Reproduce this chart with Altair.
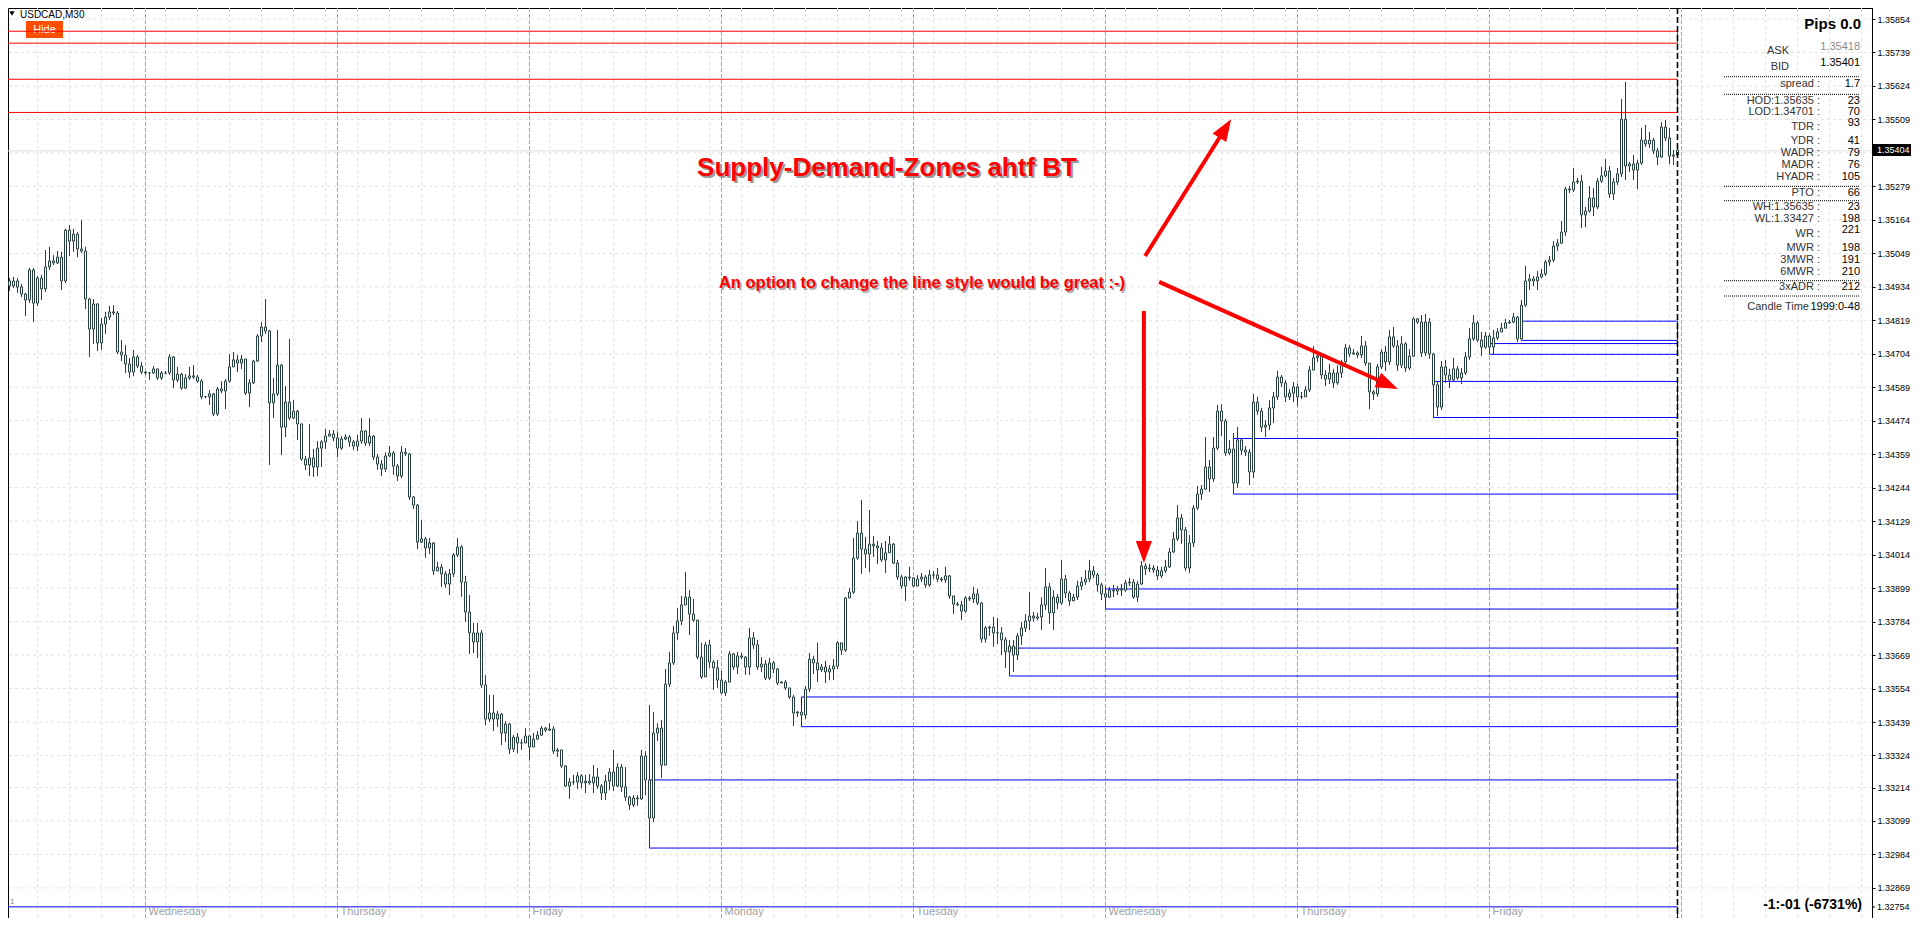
import math
import altair as alt
import pandas as pd

# ---------------- candle data: USDCAD M30, prices in points (1 point = 0.00001) ----------------
first_open = 134927
closes = [
    134954, 134937, 134954, 134933, 134909, 134889, 134992, 134878, 134964, 134927,
    135002, 135023, 135016, 135036, 134954, 135129, 135091, 135115, 135064, 135057,
    134892, 134789, 134875, 134741, 134806, 134830, 134848, 134844, 134710, 134700,
    134669, 134641, 134693, 134662, 134641, 134638, 134638, 134652, 134621, 134638,
    134638, 134693, 134614, 134634, 134586, 134621, 134628, 134624, 134610, 134556,
    134556, 134566, 134497, 134583, 134576, 134610, 134659, 134683, 134672, 134686,
    134569, 134604, 134679, 134765, 134796, 134782, 134535, 134566, 134665, 134452,
    134538, 134483, 134507, 134463, 134342, 134322, 134346, 134315, 134380, 134401,
    134421, 134428, 134415, 134380, 134411, 134418, 134401, 134387, 134404, 134439,
    134397, 134421, 134349, 134325, 134308, 134353, 134363, 134318, 134284, 134366,
    134360, 134212, 134184, 134057, 134068, 134037, 134054, 133958, 133971, 133948,
    133913, 133948, 134013, 134040, 133920, 133817, 133745, 133714, 133745, 133566,
    133449, 133470, 133449, 133466, 133401, 133432, 133346, 133387, 133367, 133367,
    133391, 133353, 133380, 133394, 133418, 133411, 133415, 133339, 133343, 133288,
    133219, 133233, 133233, 133254, 133230, 133236, 133230, 133250, 133219, 133195,
    133236, 133267, 133219, 133284, 133216, 133181, 133154, 133178, 133175, 133322,
    133240, 133109, 133401, 133418, 133291, 133569, 133642, 133745, 133786, 133841,
    133868, 133810, 133789, 133662, 133594, 133704, 133645, 133625, 133583, 133539,
    133576, 133673, 133628, 133666, 133662, 133628, 133728, 133704, 133628, 133638,
    133590, 133642, 133621, 133573, 133576, 133556, 133525, 133470, 133473, 133463,
    133552, 133655, 133642, 133618, 133628, 133611, 133621, 133631, 133711, 133686,
    133865, 133885, 134002, 134088, 134033, 134016, 134050, 134044, 134037, 133996,
    134020, 134050, 133985, 133937, 133906, 133937, 133934, 133906, 133930, 133937,
    133910, 133944, 133944, 133930, 133927, 133941, 133872, 133844, 133841, 133820,
    133865, 133862, 133879, 133848, 133724, 133762, 133765, 133745, 133745, 133721,
    133680, 133700, 133669, 133735, 133762, 133786, 133803, 133796, 133800, 133841,
    133903, 133814, 133868, 133848, 133930, 133882, 133855, 133868, 133906, 133920,
    133930, 133958, 133944, 133910, 133879, 133868, 133892, 133889, 133896, 133892,
    133917, 133920, 133868, 133913, 133975, 133965, 133968, 133961, 133941, 133958,
    133972, 134023, 134068, 134140, 134099, 133968, 134054, 134174, 134222, 134239,
    134315, 134274, 134380, 134507, 134473, 134363, 134377, 134260, 134408, 134373,
    134366, 134298, 134538, 134507, 134452, 134459, 134518, 134556, 134624, 134604,
    134556, 134569, 134590, 134556, 134556, 134580, 134648, 134690, 134696, 134631,
    134617, 134638, 134604, 134638, 134676, 134724, 134703, 134707, 134700, 134731,
    134672, 134573, 134566, 134659, 134710, 134676, 134762, 134731, 134665, 134738,
    134655, 134696, 134824, 134813, 134707, 134813, 134703, 134597, 134521, 134659,
    134631, 134614, 134652, 134621, 134638, 134693, 134755, 134810, 134751, 134727,
    134765, 134727, 134758, 134779, 134792, 134810, 134813, 134830, 134755, 134871,
    134954, 134961, 134954, 134968, 134978, 135019, 135026, 135074, 135084, 135122,
    135270, 135267, 135294, 135297, 135181, 135194, 135239, 135208, 135297, 135315,
    135332, 135253, 135294, 135322, 135510, 135349, 135356, 135335, 135359, 135438,
    135425, 135438, 135401, 135380, 135483, 135445, 135383, 135387, 135404,
]
highs = [
    134968, 134964, 134968, 134964, 134944, 134913, 134999, 134999, 134971, 134975,
    135060, 135071, 135043, 135057, 135054, 135133, 135146, 135133, 135122, 135164,
    135071, 134896, 134892, 134878, 134827, 134848, 134868, 134871, 134851, 134751,
    134734, 134689, 134717, 134700, 134676, 134645, 134641, 134662, 134648, 134645,
    134645, 134703, 134696, 134659, 134638, 134634, 134659, 134665, 134631, 134617,
    134559, 134580, 134569, 134590, 134610, 134617, 134703, 134710, 134700, 134700,
    134676, 134617, 134683, 134772, 134813, 134892, 134786, 134621, 134786, 134669,
    134593, 134755, 134545, 134511, 134459, 134353, 134463, 134377, 134404, 134408,
    134446, 134442, 134442, 134435, 134421, 134428, 134425, 134408, 134425, 134483,
    134442, 134483, 134425, 134360, 134339, 134366, 134387, 134370, 134325, 134387,
    134380, 134363, 134215, 134188, 134133, 134075, 134071, 134057, 133989, 133982,
    133958, 133965, 134020, 134071, 134047, 133941, 133875, 133779, 133779, 133755,
    133600, 133532, 133532, 133477, 133470, 133442, 133435, 133394, 133401, 133380,
    133418, 133380, 133401, 133408, 133425, 133422, 133435, 133425, 133350, 133339,
    133291, 133247, 133257, 133267, 133260, 133257, 133260, 133291, 133281, 133226,
    133257, 133281, 133343, 133298, 133295, 133284, 133185, 133188, 133188, 133343,
    133339, 133497, 133473, 133435, 133446, 133621, 133680, 133769, 133831, 133872,
    133954, 133892, 133862, 133789, 133711, 133714, 133721, 133652, 133652, 133614,
    133583, 133683, 133676, 133680, 133676, 133666, 133762, 133748, 133721, 133662,
    133652, 133659, 133649, 133625, 133580, 133583, 133556, 133532, 133477, 133494,
    133563, 133676, 133666, 133711, 133638, 133649, 133635, 133655, 133717, 133711,
    133868, 133899, 134071, 134129, 134202, 134075, 134167, 134078, 134061, 134054,
    134061, 134078, 134054, 133996, 133944, 133941, 133972, 133937, 133944, 133951,
    133944, 133961, 133958, 133968, 133937, 133972, 133944, 133872, 133851, 133855,
    133872, 133872, 133903, 133896, 133851, 133769, 133769, 133800, 133796, 133765,
    133731, 133721, 133721, 133745, 133783, 133810, 133885, 133817, 133814, 133868,
    133968, 133917, 133892, 133879, 133996, 133944, 133889, 133879, 133924, 133937,
    133961, 133996, 133975, 133951, 133917, 133906, 133903, 133910, 133906, 133913,
    133927, 133934, 133930, 133924, 133992, 133985, 133982, 133978, 133975, 133972,
    133996, 134037, 134092, 134184, 134154, 134109, 134081, 134184, 134250, 134253,
    134418, 134339, 134418, 134528, 134531, 134480, 134408, 134432, 134452, 134411,
    134387, 134377, 134566, 134556, 134518, 134476, 134545, 134573, 134645, 134631,
    134614, 134583, 134607, 134600, 134573, 134593, 134662, 134731, 134713, 134707,
    134648, 134669, 134652, 134665, 134683, 134738, 134734, 134720, 134713, 134765,
    134748, 134672, 134580, 134669, 134720, 134731, 134786, 134796, 134751, 134765,
    134744, 134720, 134830, 134827, 134837, 134841, 134827, 134707, 134610, 134679,
    134683, 134652, 134690, 134662, 134655, 134710, 134792, 134837, 134817, 134779,
    134779, 134772, 134786, 134792, 134810, 134824, 134820, 134844, 134834, 134889,
    135006, 134978, 134971, 134988, 134995, 135026, 135040, 135091, 135098, 135160,
    135277, 135280, 135342, 135308, 135318, 135208, 135280, 135273, 135308, 135346,
    135373, 135349, 135308, 135342, 135579, 135638, 135363, 135387, 135370, 135480,
    135490, 135466, 135445, 135411, 135500, 135507, 135480, 135404, 135421,
]
lows = [
    134916, 134920, 134930, 134913, 134899, 134834, 134878, 134813, 134868, 134889,
    134916, 134992, 135009, 135012, 134923, 134947, 135040, 135054, 135036, 135050,
    134858, 134693, 134738, 134713, 134717, 134772, 134820, 134837, 134703, 134679,
    134638, 134621, 134628, 134655, 134634, 134631, 134614, 134634, 134614, 134614,
    134634, 134631, 134586, 134607, 134580, 134583, 134614, 134617, 134604, 134548,
    134552, 134528, 134490, 134490, 134569, 134514, 134604, 134659, 134641, 134652,
    134562, 134521, 134600, 134676, 134744, 134772, 134322, 134483, 134559, 134356,
    134418, 134476, 134480, 134408, 134336, 134305, 134284, 134281, 134284, 134315,
    134377, 134421, 134404, 134349, 134373, 134408, 134384, 134373, 134370, 134394,
    134387, 134387, 134339, 134305, 134284, 134298, 134349, 134288, 134267, 134277,
    134353, 134202, 134171, 134033, 134054, 134003, 134016, 133944, 133961, 133903,
    133900, 133875, 133937, 134006, 133869, 133783, 133673, 133676, 133659, 133556,
    133428, 133439, 133408, 133422, 133360, 133370, 133329, 133336, 133332, 133343,
    133367, 133308, 133370, 133387, 133391, 133404, 133408, 133329, 133319, 133281,
    133216, 133175, 133223, 133209, 133212, 133195, 133223, 133195, 133209, 133171,
    133171, 133205, 133202, 133216, 133199, 133168, 133137, 133147, 133151, 133171,
    133188, 133006, 133095, 133374, 133247, 133308, 133559, 133635, 133721, 133772,
    133851, 133738, 133783, 133655, 133587, 133597, 133625, 133549, 133556, 133535,
    133528, 133587, 133618, 133604, 133655, 133601, 133601, 133690, 133618, 133611,
    133583, 133583, 133607, 133566, 133573, 133549, 133518, 133425, 133456, 133422,
    133449, 133542, 133604, 133576, 133611, 133573, 133583, 133583, 133621, 133669,
    133680, 133872, 133879, 133996, 133948, 133968, 133954, 134006, 133982, 133989,
    133951, 134020, 133982, 133927, 133896, 133855, 133924, 133903, 133910, 133920,
    133900, 133903, 133930, 133920, 133920, 133917, 133862, 133810, 133838, 133789,
    133814, 133855, 133848, 133841, 133711, 133711, 133735, 133697, 133707, 133669,
    133625, 133597, 133611, 133652, 133704, 133748, 133755, 133783, 133789, 133755,
    133824, 133776, 133755, 133827, 133841, 133865, 133838, 133855, 133858, 133892,
    133910, 133920, 133934, 133886, 133858, 133827, 133865, 133868, 133875, 133872,
    133886, 133906, 133862, 133851, 133910, 133944, 133954, 133951, 133927, 133934,
    133951, 133968, 134020, 134061, 134051, 133958, 133951, 134040, 134167, 134202,
    134236, 134229, 134264, 134373, 134421, 134353, 134356, 134226, 134243, 134356,
    134353, 134253, 134277, 134494, 134435, 134418, 134442, 134466, 134545, 134590,
    134538, 134545, 134538, 134525, 134549, 134562, 134573, 134676, 134676, 134617,
    134593, 134600, 134586, 134597, 134621, 134662, 134693, 134700, 134689, 134689,
    134662, 134514, 134545, 134556, 134652, 134645, 134665, 134724, 134645, 134655,
    134641, 134648, 134693, 134806, 134693, 134696, 134686, 134487, 134490, 134511,
    134604, 134586, 134610, 134614, 134600, 134631, 134683, 134748, 134744, 134696,
    134721, 134703, 134703, 134751, 134779, 134796, 134806, 134810, 134744, 134751,
    134865, 134923, 134937, 134923, 134964, 134971, 135006, 135019, 135057, 135081,
    135109, 135256, 135260, 135287, 135136, 135139, 135188, 135177, 135201, 135291,
    135311, 135239, 135232, 135284, 135311, 135301, 135328, 135301, 135270, 135352,
    135414, 135411, 135390, 135352, 135377, 135435, 135356, 135352, 135377,
]

# ---------------- zones (left bar index, top / bottom price in points) ----------------
demand_left = [161, 199, 251, 275, 307, 357, 371, 379, -5]
demand_top = [133240, 133525, 133693, 133896, 134413, 134609, 134739, 134816, 132804]
demand_bottom = [133006, 133423, 133597, 133827, 134222, 134485, 134702, 134750, 132500]
supply_left = [-5, -5]
supply_top = [135812, 135647]
supply_bottom = [135771, 135533]
zone_right_bar = 418

# ---------------- axis / annotations ----------------
tick_prices = [1.35854, 1.35739, 1.35624, 1.35509, 1.35279, 1.35164, 1.35049, 1.34934,
               1.34819, 1.34704, 1.34589, 1.34474, 1.34359, 1.34244, 1.34129, 1.34014,
               1.33899, 1.33784, 1.33669, 1.33554, 1.33439, 1.33324, 1.33214, 1.33099,
               1.32984, 1.32869]
hidden_grid_prices = [1.35394]
bottom_tick_label = "1.32754"
bid_price = 1.35401
current_price_label = "1.35404"
day_names = ["Wednesday", "Thursday", "Friday", "Monday", "Tuesday", "Wednesday", "Thursday", "Friday"]
day_start_bars = [35, 83, 131, 179, 227, 275, 323, 371]
next_day_bar = 419
current_bar = 418

arrow_start_bar = [284.9, 288.4, 284.6]
arrow_start_pts = [135040, 134951, 134851]
arrow_tip_bar = [306.4, 348.1, 284.6]
arrow_tip_pts = [135510, 134583, 133985]

title_text = "Supply-Demand-Zones ahtf BT"
subtitle_text = "An option to change the line style would be great :-)"
panel_labels = ["ASK", "BID", "spread :", "HOD:1.35635 :", "LOD:1.34701 :", "TDR :", "YDR :",
                "WADR :", "MADR :", "HYADR :", "PTO :", "WH:1.35635 :", "WL:1.33427 :", "WR :",
                "MWR :", "3MWR :", "6MWR :", "3xADR :", "Candle Time"]
panel_values = ["1.35418", "1.35401", "1.7", "23", "70", "93", "41", "79", "76", "105", "66",
                "23", "198", "221", "198", "191", "210", "212", "1999:0-48"]

# ---------------- layout (pixels inside the plot) ----------------
W, H = 1864, 910
PAD_RIGHT = 40
PX_PER_BAR = 4.0
PT = 1e5
Y_DOMAIN = [1.327657, 1.358918]
PX_PER_PRICE = H / (Y_DOMAIN[1] - Y_DOMAIN[0])
xsc = alt.Scale(domain=[0.625, 466.625], nice=False, zero=False)
ysc = alt.Scale(domain=Y_DOMAIN, nice=False, zero=False)
FONT = "Liberation Sans"
CANDLE = "#253f3f"

label_y = [43, 58.7, 76, 93, 104, 119, 133, 145, 157, 169, 185, 199, 211, 226, 240, 252, 264, 279, 299]
value_y = [39, 55, 76, 93, 104, 115, 133, 145, 157, 169, 185, 199, 211, 222, 240, 252, 264, 279, 299]
label_x = [1781, 1781] + [1812] * 16 + [1801]
value_color = ["#8c8c8c"] + ["#000000"] * 18
dotted_y = [68.7, 86.3, 178.3, 192.7, 272.7, 288]

YAXIS = alt.Axis(
    orient="right", values=tick_prices, format=".5f", labelFontSize=9, labelFont=FONT,
    labelColor="#000000", tickColor="#000000", tickSize=3, domainColor="#000000",
    grid=False, title=None, labelPadding=2, labelOverlap=False, labelFlush=False,
    labelBound=False)


def X(field):
    return alt.X(field, type="quantitative", scale=xsc, axis=None)


def Y(field):
    return alt.Y(field, type="quantitative", scale=ysc, axis=YAXIS)


one = pd.DataFrame({"k": [0]})

n = len(closes)
opens = [first_open] + closes[:-1]
candles = pd.DataFrame({
    "bar": list(range(n)),
    "open": [v / PT for v in opens],
    "close": [v / PT for v in closes],
    "high": [max(h, o, c) / PT for h, o, c in zip(highs, opens, closes)],
    "low": [min(l, o, c) / PT for l, o, c in zip(lows, opens, closes)],
})

# grid
vgrid = alt.Chart(pd.DataFrame({"bar": list(range(8, 466, 8))})).mark_rule(
    color="#e3e3e3", strokeDash=[3, 3], strokeWidth=1).encode(x=X("bar:Q"))
hgrid = alt.Chart(pd.DataFrame({"price": tick_prices + hidden_grid_prices})).mark_rule(
    color="#e3e3e3", strokeDash=[3, 3], strokeWidth=1).encode(y=Y("price:Q"))
seps = alt.Chart(pd.DataFrame({"bar": day_start_bars + [next_day_bar]})).mark_rule(
    color="#a6a6a6", strokeDash=[4, 2], strokeWidth=1).encode(x=X("bar:Q"))
day_lbl = alt.Chart(pd.DataFrame({"bar": day_start_bars, "name": day_names})).mark_text(
    align="left", baseline="bottom", dx=3, fontSize=11, font=FONT, color="#a0a0a0").encode(
    x=X("bar:Q"), y=alt.value(H - 1), text="name:N")
bid = alt.Chart(pd.DataFrame({"p": [bid_price]})).mark_rule(color="#dedede", strokeWidth=1).encode(y=Y("p:Q"))

# hide button, symbol header
hide_btn = alt.Chart(one).mark_rect(color="#FF4E00").encode(
    x=alt.value(18), x2=alt.value(55), y=alt.value(13), y2=alt.value(30))
hide_txt = alt.Chart(one).mark_text(text="Hide", color="white", fontSize=11, font=FONT).encode(
    x=alt.value(36.5), y=alt.value(21.5))
sym_tri = alt.Chart(one).mark_point(shape="triangle-down", filled=True, color="black", size=28, opacity=1).encode(
    x=alt.value(4), y=alt.value(5.5))
sym_txt = alt.Chart(one).mark_text(text="USDCAD,M30", align="left", baseline="middle", fontSize=10,
                                   font=FONT, color="#000000").encode(x=alt.value(12), y=alt.value(6.5))
one_txt = alt.Chart(one).mark_text(text="1", align="left", baseline="bottom", fontSize=8,
                                   font=FONT, color="#888888").encode(x=alt.value(2), y=alt.value(898))

# zones
dz = pd.DataFrame({"l": demand_left, "r": [zone_right_bar] * len(demand_left),
                   "t": [v / PT for v in demand_top], "b": [v / PT for v in demand_bottom]})
sz = pd.DataFrame({"l": supply_left, "r": [zone_right_bar] * len(supply_left),
                   "t": [v / PT for v in supply_top], "b": [v / PT for v in supply_bottom]})
demand = alt.Chart(dz).mark_rect(fill="transparent", stroke="#0000FF", strokeWidth=1, clip=True).encode(
    x=X("l:Q"), x2="r:Q", y=Y("t:Q"), y2="b:Q")
supply = alt.Chart(sz).mark_rect(fill="transparent", stroke="#FF0000", strokeWidth=1, clip=True).encode(
    x=X("l:Q"), x2="r:Q", y=Y("t:Q"), y2="b:Q")

# candles
wicks = alt.Chart(candles).mark_rule(color=CANDLE, strokeWidth=1, clip=True).encode(
    x=X("bar:Q"), y=Y("low:Q"), y2="high:Q")
bodies = alt.Chart(candles).transform_calculate(
    bl="datum.bar - 0.25", br="datum.bar + 0.25").mark_rect(
    fill="white", stroke=CANDLE, strokeWidth=1, clip=True).encode(
    x=X("bl:Q"), x2="br:Q", y=Y("open:Q"), y2="close:Q")

cur_line = alt.Chart(pd.DataFrame({"bar": [current_bar]})).mark_rule(
    color="#000000", strokeDash=[6, 3], strokeWidth=1.6).encode(x=X("bar:Q"))

# arrows
rows = []
for sb, sp, tb, tp in zip(arrow_start_bar, arrow_start_pts, arrow_tip_bar, arrow_tip_pts):
    dx = (tb - sb) * PX_PER_BAR
    dy = -(tp - sp) / PT * PX_PER_PRICE
    length = math.hypot(dx, dy)
    ang = math.degrees(math.atan2(dx, -dy)) % 360
    back = 14.0 / length
    rows.append({"sb": sb, "sp": sp / PT, "eb": tb - (tb - sb) * back,
                 "ep": (tp - (tp - sp) * back) / PT, "tb": tb, "tp": tp / PT, "ang": ang})
adf = pd.DataFrame(rows)
shafts = alt.Chart(adf).mark_rule(color="#FF0000", strokeWidth=4, strokeCap="butt").encode(
    x=X("sb:Q"), x2="eb:Q", y=Y("sp:Q"), y2="ep:Q")
heads = alt.Chart(adf).mark_point(shape="M0,0L0.55,1.5L-0.55,1.5Z", filled=True, color="#FF0000",
                                  opacity=1, size=860, strokeWidth=0).encode(
    x=X("tb:Q"), y=Y("tp:Q"), angle=alt.Angle("ang:Q", scale=None))

# texts
title_sh = alt.Chart(one).mark_text(text=title_text, font=FONT, fontSize=26, fontWeight="bold",
                                    color="#9a9a9a", align="center", baseline="middle").encode(
    x=alt.value(881), y=alt.value(162))
title = alt.Chart(one).mark_text(text=title_text, font=FONT, fontSize=26, fontWeight="bold",
                                 color="#FF0000", align="center", baseline="middle").encode(
    x=alt.value(879), y=alt.value(160))
sub_sh = alt.Chart(one).mark_text(text=subtitle_text, font=FONT, fontSize=16.5, fontWeight="bold",
                                  color="#a8a8a8", align="center", baseline="middle").encode(
    x=alt.value(915.5), y=alt.value(276.5))
sub = alt.Chart(one).mark_text(text=subtitle_text, font=FONT, fontSize=16.5, fontWeight="bold",
                               color="#FF0000", align="center", baseline="middle").encode(
    x=alt.value(914), y=alt.value(275))

pips = alt.Chart(one).mark_text(text="Pips 0.0", font=FONT, fontSize=15, fontWeight="bold",
                                color="#000000", align="right", baseline="middle").encode(
    x=alt.value(1853), y=alt.value(16))
pl = pd.DataFrame({"t": panel_labels, "py": label_y, "px": label_x})
pv = pd.DataFrame({"t": panel_values, "py": value_y, "c": value_color})
plabels = alt.Chart(pl).mark_text(font=FONT, fontSize=11, color="#333333", align="right",
                                  baseline="middle").encode(
    x=alt.X("px:Q", scale=None), y=alt.Y("py:Q", scale=None), text="t:N")
pvalues = alt.Chart(pv).mark_text(font=FONT, fontSize=11, align="right", baseline="middle").encode(
    x=alt.value(1852), y=alt.Y("py:Q", scale=None), text="t:N", color=alt.Color("c:N", scale=None))
dots = alt.Chart(pd.DataFrame({"py": dotted_y})).mark_rule(
    color="#000000", strokeDash=[1, 1], strokeWidth=1).encode(
    x=alt.value(1716), x2=alt.value(1852), y=alt.Y("py:Q", scale=None))
pl_text = alt.Chart(one).mark_text(text="-1:-01 (-6731%)", font=FONT, fontSize=14, fontWeight="bold",
                                   color="#000000", align="right", baseline="middle").encode(
    x=alt.value(1854), y=alt.value(897))

price_box = alt.Chart(one).mark_rect(color="#000000").encode(
    x=alt.value(1865), x2=alt.value(1903), y=alt.value(136), y2=alt.value(148))
price_txt = alt.Chart(one).mark_text(text=current_price_label, font=FONT, fontSize=9, color="white",
                                     align="left", baseline="middle").encode(
    x=alt.value(1869), y=alt.value(142))
last_tick = alt.Chart(one).mark_rule(color="#000000").encode(
    x=alt.value(1864), x2=alt.value(1867), y=alt.value(899))
last_lbl = alt.Chart(one).mark_text(text=bottom_tick_label, font=FONT, fontSize=9, color="#000000",
                                    align="left", baseline="middle").encode(
    x=alt.value(1869), y=alt.value(899))

chart = alt.layer(
    vgrid, hgrid, seps, bid, hide_btn, hide_txt, demand, supply, wicks, bodies, cur_line,
    shafts, heads, title_sh, title, sub_sh, sub, sym_tri, sym_txt, one_txt, day_lbl,
    pips, plabels, pvalues, dots, pl_text, price_box, price_txt, last_tick, last_lbl,
).properties(
    width=W, height=H,
    autosize=alt.AutoSizeParams(type="none"),
    padding={"left": 0, "top": 0, "right": PAD_RIGHT, "bottom": 0},
    background="white",
).configure_view(stroke="#000000", strokeWidth=1)

chart.save("out.html", embed_options={"renderer": "svg", "actions": False})
